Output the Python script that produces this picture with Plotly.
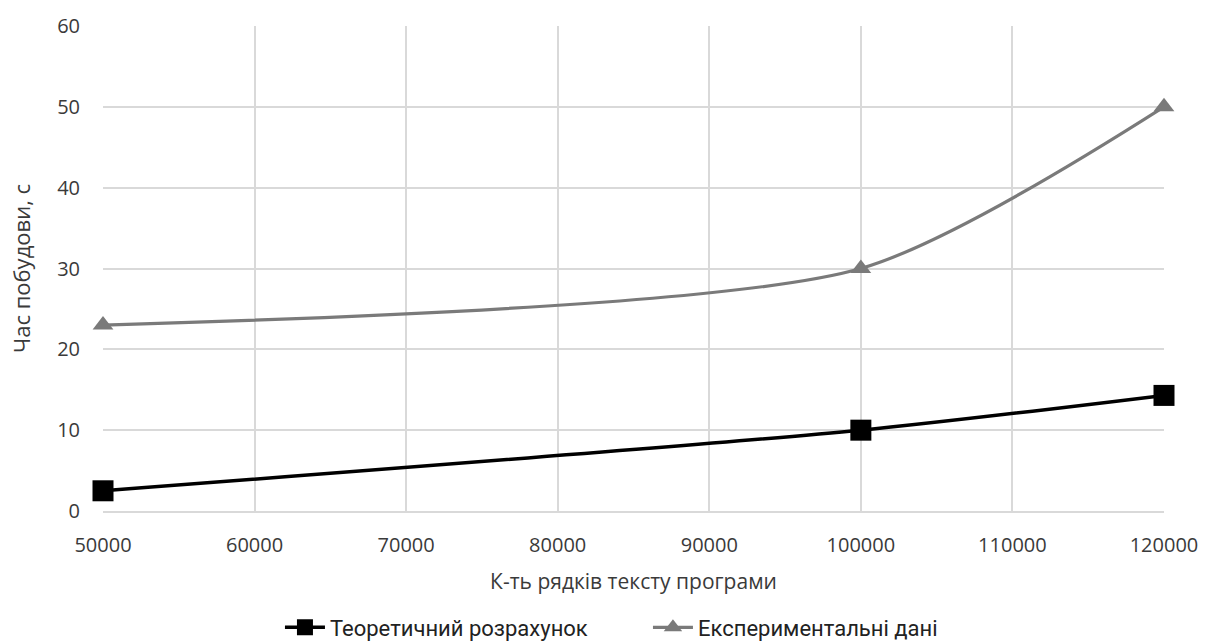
import plotly.graph_objects as go

# Number of program text lines
rows = [50000, 100000, 120000]
# Build time, seconds
theory_time = [2.5, 10.0, 14.3]
experiment_time = [23.0, 30.0, 50.0]

x_ticks = [50000, 60000, 70000, 80000, 90000, 100000, 110000, 120000]
y_ticks = [0, 10, 20, 30, 40, 50, 60]

font_family = "Open Sans, Liberation Sans, sans-serif"
text_color = "#3a3a3a"

fig = go.Figure()
fig.add_trace(go.Scatter(
    x=rows, y=theory_time, name="Теоретичний розрахунок",
    mode="lines+markers", cliponaxis=False,
    line=dict(color="#000000", width=3.5, shape="spline", smoothing=0.7),
    marker=dict(symbol="square", size=21, color="#000000"),
))
fig.add_trace(go.Scatter(
    x=rows, y=experiment_time, name="Експериментальні дані",
    mode="lines+markers", cliponaxis=False,
    line=dict(color="#7a7a7a", width=3.2, shape="spline", smoothing=0.7),
    marker=dict(symbol="triangle-up", size=18, color="#7a7a7a"),
))

fig.update_layout(
    width=1210, height=641,
    margin=dict(l=103, r=45, t=20, b=130),
    paper_bgcolor="white", plot_bgcolor="white",
    font=dict(family=font_family, size=20, color=text_color),
    showlegend=True,
    legend=dict(
        orientation="h", xref="container", yref="container",
        x=0.5355, xanchor="center", y=0.021, yanchor="middle",
        font=dict(family="Roboto, sans-serif", size=22, color="#222222"),
        itemwidth=40, entrywidth=313, traceorder="normal",
    ),
)
fig.update_xaxes(
    range=[50000, 120000], tickvals=x_ticks, ticktext=[str(v) for v in x_ticks],
    showgrid=True, gridcolor="#d9d9d9", gridwidth=1.5,
    showline=True, linecolor="#d9d9d9", linewidth=1.5, zeroline=False,
    ticks="", ticklabelstandoff=15,
    title=dict(text="К-ть рядків тексту програми", font=dict(size=21, color=text_color), standoff=18),
)
fig.update_yaxes(
    range=[0, 60], tickvals=y_ticks,
    showgrid=True, gridcolor="#d9d9d9", gridwidth=1.5,
    showline=False, zeroline=False, ticks="", ticklabelstandoff=22,
    title=dict(text="Час побудови, с", font=dict(size=22, color=text_color), standoff=20),
)

fig.write_html("out.html")
